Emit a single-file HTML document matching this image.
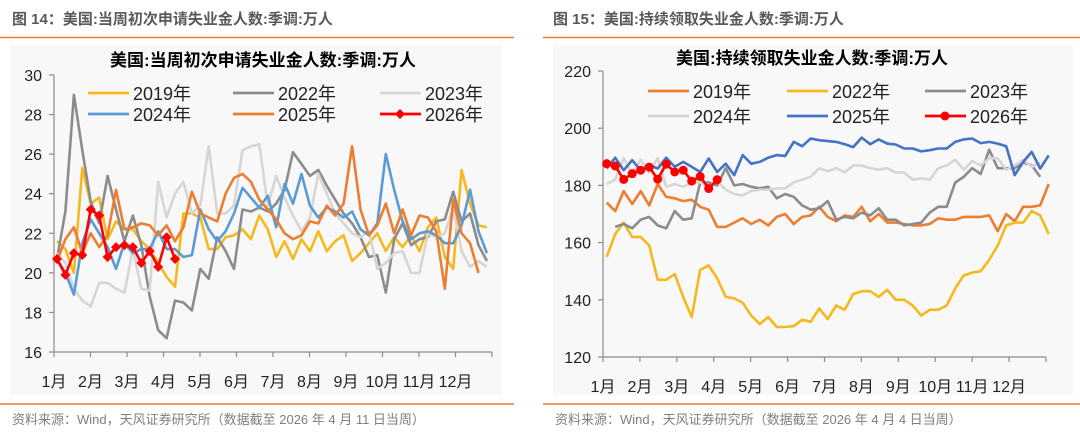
<!DOCTYPE html>
<html><head><meta charset="utf-8">
<style>
body{margin:0;background:#fff;}
svg{display:block;font-family:"Liberation Sans","Noto Sans CJK SC",sans-serif;}
</style></head>
<body>
<svg id="root" width="1080" height="441" viewBox="0 0 1080 441" xmlns="http://www.w3.org/2000/svg">
  <text x="12" y="24" font-size="15" font-weight="bold" fill="#595959">图 14：美国:当周初次申请失业金人数:季调:万人</text>
  <line x1="0" y1="37.5" x2="514" y2="37.5" stroke="#ed7d31" stroke-width="1.5"/>
  <text x="553" y="24" font-size="15" font-weight="bold" fill="#595959">图 15：美国:持续领取失业金人数:季调:万人</text>
  <line x1="543" y1="37.5" x2="1080" y2="37.5" stroke="#ed7d31" stroke-width="1.5"/>
  <rect x="10" y="45" width="492" height="350" fill="#f8f8f8"/>
  <rect x="553" y="45" width="520" height="350" fill="#f8f8f8"/>
  <line x1="0" y1="404" x2="514" y2="404" stroke="#ed7d31" stroke-width="1.5"/>
  <line x1="543" y1="404" x2="1080" y2="404" stroke="#ed7d31" stroke-width="1.5"/>
  <text x="12" y="424" font-size="13" fill="#7f7f7f">资料来源：Wind，天风证券研究所（数据截至 2026 年 4 月 11 日当周）</text>
  <text x="555" y="424" font-size="13" fill="#7f7f7f">资料来源：Wind，天风证券研究所（数据截至 2026 年 4 月 4 日当周）</text>
  <g id="left"></g>
  <g id="right"></g>
</svg>
<script>
const months = ["1月","2月","3月","4月","5月","6月","7月","8月","9月","10月","11月","12月"];
const leftYears = ["2019年","2022年","2023年","2024年","2025年","2026年"];
const leftYTicks = [16,18,20,22,24,26,28,30];
const L2019 = [21.6,21.2,20.0,25.3,23.5,23.8,21.7,22.6,22.2,22.2,21.6,21.2,20.5,19.8,19.3,23.0,23.0,22.8,21.2,21.2,21.8,21.9,22.2,21.7,22.9,22.2,20.8,21.6,20.7,21.7,21.1,22.1,21.1,21.6,21.9,20.6,21.0,21.5,22.0,21.1,21.8,21.3,21.9,21.1,22.3,22.8,20.8,20.2,25.2,23.5,22.4,22.3];
const L2022 = [20.7,23.1,29.0,26.2,23.6,22.5,24.9,23.2,21.6,22.9,21.4,18.8,17.1,16.7,18.6,18.5,18.1,20.2,19.7,21.8,21.1,20.2,23.2,23.1,23.3,23.1,23.5,24.2,26.1,25.5,24.9,25.2,24.4,23.7,23.0,22.5,21.8,20.8,20.9,19.0,21.7,22.5,21.4,21.7,21.8,22.6,22.7,24.1,22.6,23.0,21.4,20.6];
const L2023 = [21.0,20.5,19.2,18.6,18.3,19.5,19.5,19.2,19.0,21.2,19.2,19.1,24.6,22.8,24.0,24.6,23.0,23.4,26.4,23.0,23.0,23.4,26.2,26.4,26.5,23.4,24.9,23.8,22.9,22.1,22.8,25.0,24.0,23.0,22.5,22.0,21.8,22.1,20.2,20.5,21.0,21.1,20.0,20.0,22.0,21.8,22.0,23.3,21.1,20.3,20.6,20.3];
const L2024 = [20.7,20.0,18.9,21.5,22.7,22.0,21.3,20.2,21.5,21.0,21.2,21.2,22.1,21.2,21.2,20.8,20.9,23.2,22.2,21.6,22.1,23.0,24.3,23.8,23.3,23.9,22.3,24.5,23.5,25.0,23.4,22.8,23.3,23.1,22.8,23.1,22.2,21.9,22.5,26.0,24.2,22.6,21.7,22.0,22.1,21.9,21.5,21.5,22.4,24.2,22.1,21.0];
const L2025 = [20.6,21.7,22.3,21.0,22.0,21.3,21.9,24.2,22.2,22.3,22.5,22.4,21.9,22.4,21.6,22.3,24.1,23.0,22.8,22.6,24.0,24.8,25.0,24.6,23.7,23.2,22.7,22.0,21.7,21.9,22.6,22.5,23.4,22.9,23.5,26.4,23.2,21.9,22.4,23.5,22.0,23.2,21.9,22.9,22.8,22.1,19.2,23.7,22.0,21.5,20.0];
const L2026 = [20.7,19.9,21.0,20.9,23.2,22.9,20.8,21.3,21.4,21.3,20.5,21.1,20.3,21.8,20.7];

const rightYears = ["2019年","2022年","2023年","2024年","2025年","2026年"];
const rightYTicks = [120,140,160,180,200,220];
const R2019 = [174,171,178,173.5,178,173,180.5,176,175.5,174.5,175,172.5,171.5,165.5,165.5,167,168.5,166.5,168,166,169,170,166.5,169,169.5,172.5,169,167.5,169.5,169,172.5,167.5,170,167,167,166.5,166,166,166.5,168.5,168,168,169,169,169,169.5,164,170,167.5,172.5,172.5,173,180.5];
const R2022 = [155,163,167,162,162,159,147,147,149,141,134,150.5,152,147.5,141,140.5,139,134.5,131.5,134,130.5,130.5,130.8,133,132.3,137,133.3,138,136.5,142,143,143,141,143.5,140,140,138,134.5,136.5,136.5,138,144,148.5,149.5,150,154,159,166,167,167,171,169.5,163];
const R2023 = [null,165.5,166.5,165,168,169,166,165,171,168,168.5,181,181,180,186,180,180.5,179.5,179,179.5,175.5,177,176,173,171.5,172,174.5,168,169,168.5,170.5,169.5,172,168,168,166,166.5,167,170.5,172.5,172.5,181,183,186,184,192.5,186,186,186,188,187,183];
const R2024 = [180.5,182,189.5,184,189,184.5,189.5,179.5,180.5,179.5,181,181,179.5,181.5,178.5,177,176.5,178,178.5,178.5,179,179,181,182,183,186,185,186,184.5,187,187,186,185.5,186,184.5,184.5,182,182.5,182,186,187,189,185.5,188.5,187,189.5,189.5,185.5,187,189,186.5,188];
const R2025 = [185.9,189.7,185.3,188.8,185.3,187.1,185.9,189.7,186.5,188.2,186.5,184.7,189.4,184.7,187.6,183.6,190.6,187.6,188.2,189.7,190.6,190.3,195.2,193.7,196.4,195.8,195.5,195.2,194.4,193.4,196.7,194.4,196.1,194.6,194.3,192.9,192.9,191.9,192.3,192.9,192.9,195.2,196.1,196.4,194.8,195.2,194.6,193.7,183.6,188.2,191.7,185.9,190.5];
const R2026 = [187.6,186.8,182.1,184.1,185.3,186.4,182.2,187.4,184.7,185.3,181.5,183.1,178.9,182.0];

const NS = "http://www.w3.org/2000/svg";
function mk(parent, tag, attrs, text){
  const e = document.createElementNS(NS, tag);
  for (const k in attrs) e.setAttribute(k, attrs[k]);
  if (text !== undefined) e.textContent = text;
  parent.appendChild(e);
  return e;
}

function drawChart(g, cfg){
  const yS = v => cfg.y0 - (v - cfg.vmin) / (cfg.vmax - cfg.vmin) * (cfg.y0 - cfg.y1);
  const xS = i => cfg.xStart + i * cfg.step;
  const t = mk(g, "text", {x: cfg.titleX, y: cfg.titleY, "font-size": 17, "font-weight": "bold", fill: "#000", "text-anchor": "middle"}, cfg.title);
  
  
  // y axis
  const ya = mk(g, "line", {x1: cfg.ax, y1: cfg.y1, x2: cfg.ax, y2: cfg.y0, stroke: "#8c8c8c", "stroke-width": 1.2});
  
  
  cfg.yticks.forEach(v => {
    const y = yS(v);
    const tk = mk(g, "line", {x1: cfg.ax - 5, y1: y, x2: cfg.ax, y2: y, stroke: "#8c8c8c", "stroke-width": 1.2});
    
    
    const lb = mk(g, "text", {x: cfg.ax - 12, y: y + 6, "font-size": 16, fill: "#222", "text-anchor": "end"}, v);
    
    
  });
  // x axis
  const xa = mk(g, "line", {x1: cfg.ax, y1: cfg.y0, x2: cfg.axEnd, y2: cfg.y0, stroke: "#8c8c8c", "stroke-width": 1.2});
  
  
  const mw = (cfg.axEnd - cfg.ax) / 12;
  for (let m = 0; m <= 12; m++) {
    const x = cfg.ax + m * mw;
    const tk = mk(g, "line", {x1: x, y1: cfg.y0, x2: x, y2: cfg.y0 + 5, stroke: "#8c8c8c", "stroke-width": 1.2});
    
    
  }
  months.forEach((m, i) => {
    const lb = mk(g, "text", {x: cfg.ax + i * mw, y: cfg.y0 + 35, "font-size": 16, fill: "#222", "text-anchor": "middle"}, m);
    
    
  });
  // series
  cfg.series.forEach(s => {
    let d = "";
    s.data.forEach((v, i) => { if (v == null) return; d += (d ? "L" : "M") + xS(i).toFixed(1) + " " + yS(v).toFixed(1); });
    const p = mk(g, "path", {d: d, fill: "none", stroke: s.color, "stroke-width": 2.6, "stroke-linejoin": "round"});
    
    
    if (s.marker) {
      s.data.forEach((v, i) => {
        const x = xS(i), y = yS(v);
        let mkEl;
        if (s.marker === "diamond") mkEl = mk(g, "path", {d: `M${x} ${y-5}L${x+5} ${y}L${x} ${y+5}L${x-5} ${y}Z`, fill: s.color});
        else mkEl = mk(g, "circle", {cx: x, cy: y, r: 4.5, fill: s.color});
        
        
      });
    }
  });
  // legend
  cfg.series.forEach((s, i) => {
    const col = i % 3, row = Math.floor(i / 3);
    const lx = cfg.legX[col], ly = cfg.legY[row];
    const ln = mk(g, "line", {x1: lx, y1: ly, x2: lx + 41, y2: ly, stroke: s.color, "stroke-width": 2.8});
    
    
    if (s.marker === "diamond") {
      const dm = mk(g, "path", {d: `M${lx+20} ${ly-5}L${lx+25} ${ly}L${lx+20} ${ly+5}L${lx+15} ${ly}Z`, fill: s.color});
      
      
    } else if (s.marker) {
      const c = mk(g, "circle", {cx: lx + 20, cy: ly, r: 4.5, fill: s.color});
      
      
    }
    const tx = mk(g, "text", {x: lx + 45, y: ly + 7, "font-size": 18, fill: "#222"}, s.label);
    
    
  });
}

drawChart(document.getElementById("left"), {
  title: "美国:当周初次申请失业金人数:季调:万人", titleX: 263, titleY: 66,
  ax: 54, axEnd: 492, y0: 352, y1: 75, vmin: 16, vmax: 30, yticks: leftYTicks,
  xStart: 57, step: 8.43,
  legX: [88, 233, 380], legY: [93, 114],
  series: [
    {key: "2019", label: leftYears[0], color: "#f5b91e", data: L2019},
    {key: "2022", label: leftYears[1], color: "#8c8c8c", data: L2022},
    {key: "2023", label: leftYears[2], color: "#d6d6d6", data: L2023},
    {key: "2024", label: leftYears[3], color: "#5b9bd5", data: L2024},
    {key: "2025", label: leftYears[4], color: "#ed7d31", data: L2025},
    {key: "2026", label: leftYears[5], color: "#ff0000", data: L2026, marker: "diamond"}
  ]
});
drawChart(document.getElementById("right"), {
  title: "美国:持续领取失业金人数:季调:万人", titleX: 812, titleY: 64,
  ax: 603, axEnd: 1046, y0: 357, y1: 71, vmin: 120, vmax: 220, yticks: rightYTicks,
  xStart: 606.7, step: 8.5,
  legX: [648, 787, 925], legY: [91, 116],
  series: [
    {key: "2019", label: rightYears[0], color: "#ed7d31", data: R2019},
    {key: "2022", label: rightYears[1], color: "#f5b91e", data: R2022},
    {key: "2023", label: rightYears[2], color: "#8c8c8c", data: R2023},
    {key: "2024", label: rightYears[3], color: "#d6d6d6", data: R2024},
    {key: "2025", label: rightYears[4], color: "#4472c4", data: R2025},
    {key: "2026", label: rightYears[5], color: "#ff0000", data: R2026, marker: "circle"}
  ]
});
</script>
</body></html>
